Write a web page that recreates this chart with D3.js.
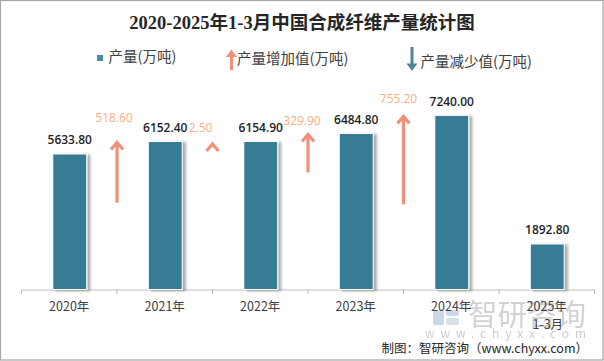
<!DOCTYPE html>
<html><head><meta charset="utf-8">
<script src="https://cdn.jsdelivr.net/npm/d3@7"></script>
<style>
html,body{margin:0;padding:0;background:#fff;}
svg{display:block;}
text{font-family:"Noto Sans CJK SC","Noto Sans",sans-serif;}
</style></head>
<body>
<svg id="chart" width="604" height="361"></svg>
<script>
const categories = ["2020年","2021年","2022年","2023年","2024年","2025年 1-3月"];
const production = [5633.8, 6152.4, 6154.9, 6484.8, 7240.0, 1892.8];
const increaseValues = [518.6, 2.5, 329.9, 755.2]; // change from year i to i+1
const title = "2020-2025年1-3月中国合成纤维产量统计图";
const legendLabels = ["产量(万吨)", "产量增加值(万吨)", "产量减少值(万吨)"];
const source = "制图：智研咨询（www.chyxx.com）";

const W = 604, H = 361;
const barColor = "#367B94", upColor = "#F0907A", upLabelColor = "#F4B183", downColor = "#4E86A0";
// label placement nudges (layout only) for increase labels: [dx, dy above tip]
const labelNudge = [[-3, 20], [-12, 11], [-6, 9], [-5, 12]];
const svg = d3.select("#chart");

const defs = svg.append("defs");
const f = defs.append("filter").attr("id","shadow").attr("x","-20%").attr("y","-10%").attr("width","160%").attr("height","130%");
f.append("feDropShadow").attr("dx",3).attr("dy",1).attr("stdDeviation",1.4).attr("flood-color","#000").attr("flood-opacity",0.35);

svg.append("rect").attr("x",0.5).attr("y",0.5).attr("width",W-1.5).attr("height",H-1.5)
  .attr("fill","#fff").attr("stroke","#A6A6A6").attr("stroke-width",1.2);

// Title
svg.append("text").attr("x",302).attr("y",29).attr("text-anchor","middle")
  .style("font-family","'Liberation Serif','DejaVu Serif','Noto Sans CJK SC',serif")
  .style("font-size","18.5px").style("font-weight","bold").attr("fill","#262626").text(title);

// Scales
const x = d3.scaleBand().domain(categories).range([21.5, 594.5]).padding(0);
const y = d3.scaleLinear().domain([0, 9000]).range([289.5, 73]);
const barW = x.bandwidth()*0.355;
const arrowLen = d3.scaleLinear().domain([0, 1000]).range([0, 118]);

// Watermark
const wm = svg.append("g").attr("opacity",0.75);
wm.append("rect").attr("x",433).attr("y",310).attr("width",11).attr("height",15).attr("rx",2).attr("fill","#B9CCE0");
wm.append("rect").attr("x",446).attr("y",310).attr("width",13).attr("height",6).attr("rx",2).attr("fill","#B9CCE0");
wm.append("rect").attr("x",446).attr("y",318).attr("width",13).attr("height",7).attr("rx",2).attr("fill","#C9D7E6");
wm.append("text").attr("x",468).attr("y",325).style("font-size","29.5px").attr("fill","#C4C4C4").text("智研咨询");
wm.append("text").attr("x",425).attr("y",338).attr("textLength",161).attr("lengthAdjust","spacing")
  .style("font-size","12px").attr("fill","#BDBDBD").text("www.chyxx.com");

// Axis line and ticks
const axis = svg.append("g").attr("transform",`translate(0,${y(0)})`)
  .call(d3.axisBottom(x).tickSize(0).tickFormat(""));
axis.select(".domain").attr("stroke","#BFBFBF").attr("stroke-width",1.2);
const bounds = categories.map(c => x(c)).concat([x.range()[1]]);
svg.append("g").selectAll("line").data(bounds).join("line")
  .attr("x1",d=>d).attr("x2",d=>d).attr("y1",y(0)).attr("y2",y(0)+4.5)
  .attr("stroke","#BFBFBF").attr("stroke-width",1.2);

// Category labels
const cl = svg.append("g").selectAll("text").data(categories).join("text")
  .attr("x",d=>x(d)+x.bandwidth()/2).attr("y",310.5).attr("text-anchor","middle")
  .style("font-size","12.5px").attr("fill","#404040");
cl.each(function(d){
  const parts = d.split(" ");
  const t = d3.select(this);
  parts.forEach((p,i)=>t.append("tspan").attr("x",x(d)+x.bandwidth()/2+(i?1:0)).attr("dy",i?18:0).text(p));
});

// Bars
svg.append("g").selectAll("rect").data(production).join("rect")
  .attr("x",(d,i)=>x(categories[i])+x.bandwidth()/2-barW/2+0.5)
  .attr("y",d=>y(d)).attr("width",barW).attr("height",d=>y(0)-y(d))
  .attr("fill",barColor).attr("stroke","#fff").attr("stroke-width",1).attr("filter","url(#shadow)");

// Bar labels
svg.append("g").selectAll("text").data(production).join("text")
  .attr("x",(d,i)=>x(categories[i])+x.bandwidth()/2+0.5).attr("y",d=>y(d)-9.5)
  .attr("text-anchor","middle").style("font-family","'Open Sans','Noto Sans',sans-serif")
  .style("font-size","12px").style("font-weight","600").attr("fill","#1F1F1F")
  .text(d=>d3.format(".2f")(d));

// Increase arrows
const ag = svg.append("g");
increaseValues.forEach((v,i)=>{
  const ax = x(categories[i+1]);
  const tip = y(production[i+1]) + (arrowLen(v) < 12 ? 1.5 : 0);
  const len = Math.max(arrowLen(v), 0);
  const g = ag.append("g").attr("stroke",upColor).attr("fill","none").attr("stroke-width",3.2);
  if (len > 12) g.append("line").attr("x1",ax).attr("x2",ax).attr("y1",tip+1).attr("y2",tip+len);
  g.append("path").attr("d",`M${ax-6},${tip+8}L${ax},${tip+1}L${ax+6},${tip+8}`).attr("stroke-linejoin","miter");
  const [dx, dy] = labelNudge[i];
  ag.append("text").attr("x",ax+dx).attr("y",tip-dy).attr("text-anchor","middle")
    .style("font-family","'Open Sans','Noto Sans',sans-serif").style("font-size","12px")
    .attr("fill",upLabelColor).text(d3.format(".2f")(v));
});

// Legend
const lg = svg.append("g");
lg.append("rect").attr("x",97).attr("y",55).attr("width",6).attr("height",6).attr("fill","#4A8FA8");
lg.append("text").attr("x",108.5).attr("y",62).style("font-size","14.5px").attr("fill","#404040").text(legendLabels[0]);
lg.append("path").attr("d","M231.5,49.5L237,57L233,57L233,70L230,70L230,57L226,57Z").attr("fill",upColor);
lg.append("text").attr("x",237).attr("y",64).style("font-size","14.5px").attr("fill","#404040").text(legendLabels[1]);
lg.append("path").attr("d","M412,71L417.5,63.5L413.5,63.5L413.5,47L410.5,47L410.5,63.5L406.5,63.5Z").attr("fill",downColor);
lg.append("text").attr("x",420.5).attr("y",67).style("font-size","14.5px").attr("fill","#404040").text(legendLabels[2]);

// Source
svg.append("text").attr("x",588).attr("y",352.5).attr("text-anchor","end")
  .style("font-size","12.5px").attr("fill","#262626").text(source);
</script>
</body></html>
